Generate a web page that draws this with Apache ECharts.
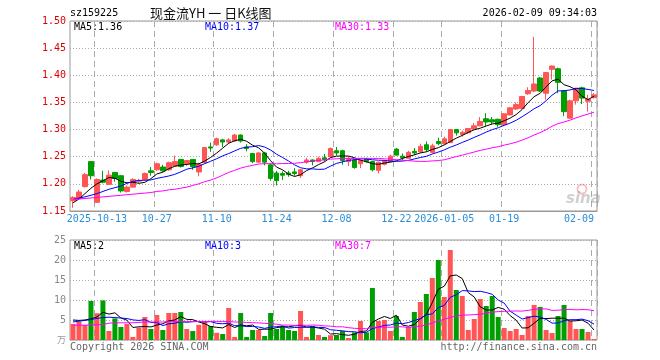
<!DOCTYPE html>
<html><head><meta charset="utf-8">
<script src="https://cdn.jsdelivr.net/npm/echarts@6/dist/echarts.min.js"></script>
<style>html,body{margin:0;padding:0;background:#fff}#c{width:660px;height:360px}</style>
</head><body><div id="c"></div>
<script>
const dates = ['2025-09-29','2025-09-30','2025-10-09','2025-10-10','2025-10-13','2025-10-14','2025-10-15','2025-10-16','2025-10-17','2025-10-20',
'2025-10-21','2025-10-22','2025-10-23','2025-10-24','2025-10-27','2025-10-28','2025-10-29','2025-10-30','2025-10-31','2025-11-03',
'2025-11-04','2025-11-05','2025-11-06','2025-11-07','2025-11-10','2025-11-11','2025-11-12','2025-11-13','2025-11-14','2025-11-17',
'2025-11-18','2025-11-19','2025-11-20','2025-11-21','2025-11-24','2025-11-25','2025-11-26','2025-11-27','2025-11-28','2025-12-01',
'2025-12-02','2025-12-03','2025-12-04','2025-12-05','2025-12-08','2025-12-09','2025-12-10','2025-12-11','2025-12-12','2025-12-15',
'2025-12-16','2025-12-17','2025-12-18','2025-12-19','2025-12-22','2025-12-23','2025-12-24','2025-12-25','2025-12-26','2025-12-29',
'2025-12-30','2025-12-31','2026-01-05','2026-01-06','2026-01-07','2026-01-08','2026-01-09','2026-01-12','2026-01-13','2026-01-14',
'2026-01-15','2026-01-16','2026-01-19','2026-01-20','2026-01-21','2026-01-22','2026-01-23','2026-01-26','2026-01-27','2026-01-28',
'2026-01-29','2026-01-30','2026-02-02','2026-02-03','2026-02-04','2026-02-05','2026-02-06','2026-02-09'];

const opens = [1.169,1.173,1.195,1.241,1.166,1.207,1.199,1.221,1.215,1.186,
1.194,1.205,1.208,1.224,1.226,1.231,1.226,1.233,1.245,1.237,
1.245,1.222,1.239,1.268,1.272,1.281,1.277,1.279,1.290,1.268,
1.256,1.240,1.257,1.235,1.220,1.219,1.220,1.222,1.215,1.240,
1.244,1.241,1.248,1.250,1.261,1.261,1.241,1.244,1.237,1.246,
1.241,1.225,1.236,1.241,1.264,1.251,1.247,1.260,1.259,1.272,
1.258,1.278,1.274,1.276,1.300,1.291,1.294,1.301,1.307,1.320,
1.318,1.319,1.309,1.327,1.338,1.339,1.366,1.371,1.395,1.367,
1.411,1.412,1.371,1.321,1.353,1.377,1.352,1.359];
const closes = [1.175,1.185,1.217,1.215,1.208,1.203,1.216,1.210,1.187,1.194,
1.208,1.206,1.219,1.221,1.237,1.224,1.239,1.241,1.232,1.243,
1.232,1.236,1.267,1.266,1.283,1.277,1.281,1.290,1.279,1.265,
1.241,1.257,1.240,1.210,1.206,1.216,1.217,1.219,1.226,1.244,
1.241,1.247,1.245,1.265,1.257,1.243,1.246,1.230,1.243,1.241,
1.226,1.240,1.242,1.251,1.253,1.248,1.258,1.257,1.269,1.263,
1.270,1.274,1.283,1.300,1.294,1.295,1.302,1.307,1.315,1.314,
1.314,1.309,1.329,1.340,1.346,1.361,1.372,1.384,1.371,1.405,
1.417,1.387,1.333,1.353,1.376,1.358,1.356,1.364];
const highs = [1.177,1.189,1.220,1.242,1.210,1.224,1.225,1.222,1.216,1.197,
1.210,1.209,1.221,1.231,1.239,1.235,1.241,1.252,1.246,1.244,
1.245,1.239,1.268,1.276,1.285,1.283,1.284,1.292,1.291,1.273,
1.257,1.258,1.259,1.237,1.224,1.223,1.224,1.229,1.227,1.248,
1.245,1.250,1.255,1.267,1.268,1.263,1.251,1.246,1.245,1.248,
1.242,1.241,1.244,1.254,1.266,1.256,1.261,1.266,1.274,1.278,
1.274,1.285,1.287,1.301,1.301,1.298,1.303,1.312,1.323,1.330,
1.323,1.320,1.330,1.341,1.350,1.362,1.378,1.471,1.397,1.406,
1.418,1.414,1.373,1.355,1.377,1.379,1.364,1.367];
const lows = [1.156,1.171,1.193,1.208,1.165,1.201,1.198,1.204,1.184,1.184,
1.193,1.202,1.206,1.215,1.224,1.222,1.224,1.232,1.230,1.233,
1.226,1.214,1.238,1.259,1.270,1.268,1.274,1.278,1.276,1.260,
1.238,1.239,1.234,1.206,1.197,1.207,1.213,1.215,1.211,1.237,
1.234,1.240,1.241,1.248,1.252,1.235,1.233,1.228,1.229,1.239,
1.223,1.219,1.234,1.240,1.252,1.244,1.246,1.253,1.257,1.259,
1.256,1.271,1.272,1.275,1.289,1.287,1.292,1.300,1.306,1.306,
1.309,1.305,1.306,1.326,1.336,1.338,1.364,1.369,1.369,1.355,
1.392,1.367,1.325,1.320,1.346,1.347,1.333,1.357];
const volumes = [4.0,4.6,3.75,9.75,6.7,9.9,2.25,5.4,3.25,4.0,
0.75,3.1,5.75,2.75,6.25,2.5,6.75,6.75,7.0,2.75,
2.25,3.8,4.5,3.5,1.8,1.5,8.0,0.75,6.75,0.75,
2.5,2.5,1.0,6.75,2.75,3.5,2.5,2.25,7.25,0.75,
3.5,1.25,0.75,1.2,1.25,2.25,0.5,1.9,4.75,1.9,
13.0,4.75,5.0,2.25,6.0,0.75,3.25,7.0,9.5,11.5,
15.5,20.0,10.75,22.5,12.5,11.0,2.5,5.25,10.25,8.5,
11.0,5.75,3.0,2.25,2.75,1.25,6.0,8.75,8.25,2.5,
1.75,6.0,8.75,4.75,2.75,2.75,2.0,0.25];

// moving-average values read off the picture where earlier history is not shown
const ma5Head = [1.165,1.172,1.182,1.192];
const ma10Head = [1.171,1.174,1.176,1.179,1.182,1.186,1.190,1.193,1.196];
const ma30Head = [1.171,1.172,1.173,1.174,1.175,1.176,1.177,1.178,1.179,1.180,
1.181,1.182,1.183,1.184,1.186,1.187,1.189,1.190,1.192,1.194,
1.197,1.200,1.204,1.207,1.211,1.216,1.221,1.225,1.229];
const volMa5Head = [5.0,4.9,5.0,5.3];
const volMa10Head = [4.5,4.7,4.9,5.1,5.4,5.6,5.7,5.6,5.5];
const volMa30Head = [3.7,3.7,3.7,3.8,3.8,3.9,4.2,4.3,4.3,4.3,
4.3,4.4,4.5,4.5,4.5,4.5,4.6,4.6,4.6,4.6,
4.6,4.6,4.6,4.6,4.6,4.6,4.6,4.5,4.5];

const tickDates = ['2025-10-13','2025-10-27','2025-11-10','2025-11-24','2025-12-08','2025-12-22','2026-01-05','2026-01-19','2026-02-09'];
const tickTexts = ['2025-10-13','10-27','11-10','11-24','12-08','12-22','2026-01-05','01-19','02-09'];

const stockCode = 'sz159225';
const titleText = '现金流YH 一 日K线图';
const timeText = '2026-02-09 09:34:03';
const priceMaLabels = ['MA5:1.36','MA10:1.37','MA30:1.33'];
const volMaLabels = ['MA5:2','MA10:3','MA30:7'];

const UP = '#ff5555', DOWN = '#009e00';
const MA_COLORS = ['#000000','#0000ff','#ff00ff'];
const MONO = '"DejaVu Sans Mono", "Liberation Mono", monospace';

function ma(src, n, head) {
  return src.map((v, i) => {
    if (i < n - 1) return head[i];
    let s = 0;
    for (let k = i - n + 1; k <= i; k++) s += src[k];
    return +(s / n).toFixed(4);
  });
}

const kData = dates.map((d, i) => [opens[i], closes[i], lows[i], highs[i]]);
const volData = volumes.map((v, i) => ({
  value: v,
  itemStyle: { color: closes[i] >= opens[i] ? UP : DOWN }
}));
const isTick = (i, v) => tickDates.indexOf(v) >= 0;

const chart = echarts.init(document.getElementById('c'), null, { renderer: 'canvas' });

const lineS = (name, data, color, xi, yi) => ({
  name, type: 'line', data, xAxisIndex: xi, yAxisIndex: yi,
  symbol: 'none', showSymbol: false, smooth: false, z: 5,
  lineStyle: { width: 1, color }, itemStyle: { color }, silent: true
});

const txt = (text, x, y, color, extra) => Object.assign({
  type: 'text', x, y,
  style: Object.assign({ text, fill: color, font: '10px ' + MONO, textVerticalAlign: 'middle' }, extra || {})
});

chart.setOption({
  animation: false,
  backgroundColor: '#ffffff',
  grid: [
    { left: 70, top: 21, width: 527, height: 190, show: true, borderColor: '#999', borderWidth: 1 },
    { left: 70, top: 240, width: 527, height: 100, show: true, borderColor: '#999', borderWidth: 1 }
  ],
  xAxis: [
    {
      type: 'category', data: dates, gridIndex: 0, boundaryGap: true,
      axisLine: { show: true, lineStyle: { color: '#999' } },
      axisTick: { show: false },
      axisLabel: {
        interval: isTick,
        formatter: v => tickTexts[tickDates.indexOf(v)],
        color: '#2a8ed8', fontFamily: MONO, fontSize: 10, margin: 3,
        alignMaxLabel: 'right'
      },
      splitLine: { show: true, interval: isTick, lineStyle: { color: '#aaa', type: [6, 4], width: 1 } }
    },
    {
      type: 'category', data: dates, gridIndex: 1, boundaryGap: true,
      axisLine: { show: false }, axisTick: { show: false }, axisLabel: { show: false },
      splitLine: { show: true, interval: isTick, lineStyle: { color: '#aaa', type: [6, 4], width: 1 } }
    }
  ],
  yAxis: [
    {
      type: 'value', gridIndex: 0, min: 1.15, max: 1.50, interval: 0.05, scale: true,
      axisLine: { show: false }, axisTick: { show: false },
      axisLabel: { color: '#e00000', fontFamily: MONO, fontSize: 10, margin: 4, formatter: v => v.toFixed(2) },
      splitLine: { show: true, lineStyle: { color: '#aaa', type: [1, 2], width: 1 } }
    },
    {
      type: 'value', gridIndex: 1, min: 0, max: 25, interval: 5,
      axisLine: { show: false }, axisTick: { show: false },
      axisLabel: {
        color: '#888', fontFamily: MONO, fontSize: 10, margin: 4,
        formatter: v => v === 0 ? '{c|万}' : String(v),
        rich: { c: { fontFamily: '"Noto Sans CJK SC"', fontSize: 9, color: '#999' } }
      },
      splitLine: { show: true, lineStyle: { color: '#aaa', type: [1, 2], width: 1 } }
    }
  ],
  series: [
    {
      type: 'candlestick', data: kData, xAxisIndex: 0, yAxisIndex: 0, barWidth: 5, z: 3,
      itemStyle: { color: UP, color0: DOWN, borderColor: UP, borderColor0: DOWN, borderWidth: 1 }
    },
    lineS('MA5', ma(closes, 5, ma5Head), MA_COLORS[0], 0, 0),
    lineS('MA10', ma(closes, 10, ma10Head), MA_COLORS[1], 0, 0),
    lineS('MA30', ma(closes, 30, ma30Head), MA_COLORS[2], 0, 0),
    { type: 'bar', data: volData, xAxisIndex: 1, yAxisIndex: 1, barWidth: 5, z: 3 },
    lineS('VMA5', ma(volumes, 5, volMa5Head), MA_COLORS[0], 1, 1),
    lineS('VMA10', ma(volumes, 10, volMa10Head), MA_COLORS[1], 1, 1),
    lineS('VMA30', ma(volumes, 30, volMa30Head), MA_COLORS[2], 1, 1)
  ],
  graphic: [
    txt(stockCode, 70, 13, '#000'),
    { type: 'text', x: 150, y: 13, style: { text: titleText, fill: '#111', font: '13px "Noto Sans CJK SC"', textVerticalAlign: 'middle' } },
    txt(timeText, 597, 13, '#000', { textAlign: 'right' }),
    txt(priceMaLabels[0], 74, 27, MA_COLORS[0]),
    txt(priceMaLabels[1], 205, 27, MA_COLORS[1]),
    txt(priceMaLabels[2], 335, 27, MA_COLORS[2]),
    txt(volMaLabels[0], 74, 246, MA_COLORS[0]),
    txt(volMaLabels[1], 205, 246, MA_COLORS[1]),
    txt(volMaLabels[2], 335, 246, MA_COLORS[2]),
    txt('Copyright 2026 SINA.COM', 70, 347, '#666'),
    txt('http://finance.sina.com.cn', 597, 347, '#666', { textAlign: 'right' }),
    { type: 'circle', shape: { cx: 582, cy: 189, r: 4.5 }, style: { fill: 'none', stroke: 'rgba(230,120,120,0.45)', lineWidth: 2 }, z: 1 },
    { type: 'text', x: 566, y: 199, z: 1, style: { text: 'sina', fill: 'rgba(150,150,150,0.45)', font: 'italic bold 15px "DejaVu Sans"', textVerticalAlign: 'middle' } }
  ]
});
</script>
</body></html>
